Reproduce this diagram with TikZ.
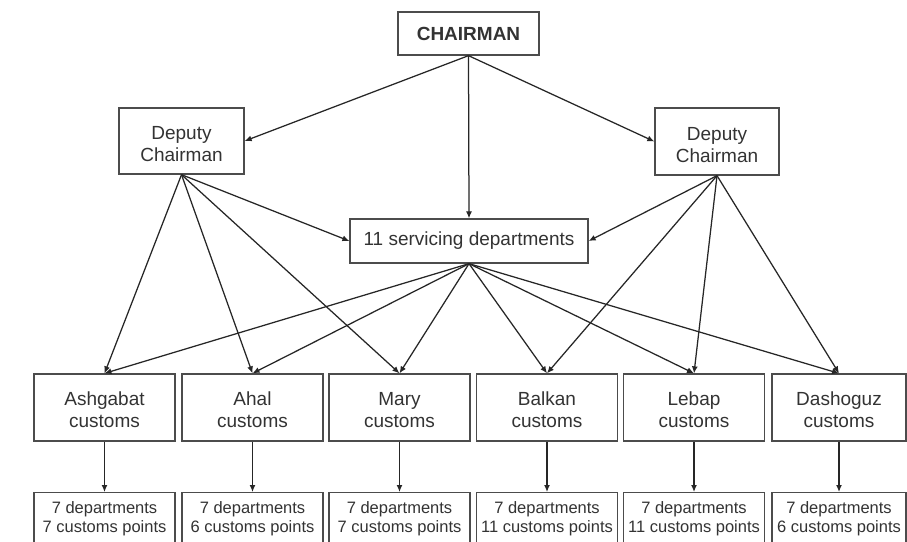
\documentclass[tikz,border=0pt]{standalone}
\usepackage{fontspec}
\setmainfont{Liberation Sans}
\usetikzlibrary{arrows.meta}
% invisible rule that pads the first line of a box label from above
\newcommand\padtop[1]{\rule{0pt}{#1}}
\begin{document}
\begin{tikzpicture}[x=1pt,y=-1pt,
  box/.style={draw=black!70, line width=1.3pt, fill=white, align=center,
    inner sep=0pt, text=black!80, font=\fontsize{19}{22}\selectfont},
  custbox/.style={box, minimum width=141pt, minimum height=67pt},
  unitbox/.style={draw=black!70, line width=1.3pt, fill=white, minimum width=141pt,
    minimum height=70pt, anchor=north, inner sep=0pt},
  unittext/.style={align=center, anchor=north, inner sep=0pt, text=black!80,
    font=\fontsize{16.5}{19.5}\selectfont},
  link/.style={draw=black!85, line width=1.25pt, -{Latex[length=7pt,width=6pt]}}]
\useasboundingbox (0,0) rectangle (907,541);
\clip (0,0) rectangle (907,541);
\fill[white] (0,0) rectangle (907,541);

% top management
\node[box, minimum width=141pt, minimum height=43pt, font=\bfseries\fontsize{19}{22}\selectfont]
  (chair) at (468.5,33.5) {CHAIRMAN};
\node[box, minimum width=125pt, minimum height=66pt] (depl) at (181.5,141) {\padtop{20pt}Deputy\\Chairman};
\node[box, minimum width=124pt, minimum height=67pt] (depr) at (717,141.5) {\padtop{20pt}Deputy\\Chairman};
\node[box, minimum width=238pt, minimum height=44pt] (serv) at (469,241) {11 servicing departments};

% regional customs
\node[custbox] (ash) at (104.5,407.5) {\padtop{18pt}Ashgabat\\customs};
\node[custbox] (aha) at (252.5,407.5) {\padtop{18pt}Ahal\\customs};
\node[custbox] (mar) at (399.5,407.5) {\padtop{18pt}Mary\\customs};
\node[custbox] (bal) at (547,407.5) {\padtop{18pt}Balkan\\customs};
\node[custbox] (leb) at (694,407.5) {\padtop{18pt}Lebap\\customs};
\node[custbox, minimum width=134pt] (das) at (839,407.5) {\padtop{18pt}Dashoguz\\customs};

% subordinate units
\foreach \n/\x/\w/\pts in {ash/104.5/141/7, aha/252.5/141/6, mar/399.5/141/7,
                           bal/547/141/11, leb/694/141/11, das/839/134/6}{
  \node[unitbox, minimum width=\w pt] (\n u) at (\x,492) {};
  \node[unittext] (\n t) at (\x,501) {7 departments\\\pts\ customs points};
}

% chairman links
\draw[link] (chair.south) -- (depl.east);
\draw[link] (chair.south) -- (depr.west);
\draw[link] (chair.south) -- (serv.north);

% deputy links
\draw[link] (depl.south) -- (serv.west);
\foreach \t in {ash,aha,mar} \draw[link] (depl.south) -- (\t.north);
\draw[link] (depr.south) -- (serv.east);
\foreach \t in {bal,leb,das} \draw[link] (depr.south) -- (\t.north);

% servicing departments links
\foreach \t in {ash,aha,mar,bal,leb,das} \draw[link] (serv.south) -- (\t.north);

% customs to units
\foreach \t in {ash,aha,mar,bal,leb,das} \draw[link] (\t.south) -- (\t u.north);
\end{tikzpicture}
\end{document}
